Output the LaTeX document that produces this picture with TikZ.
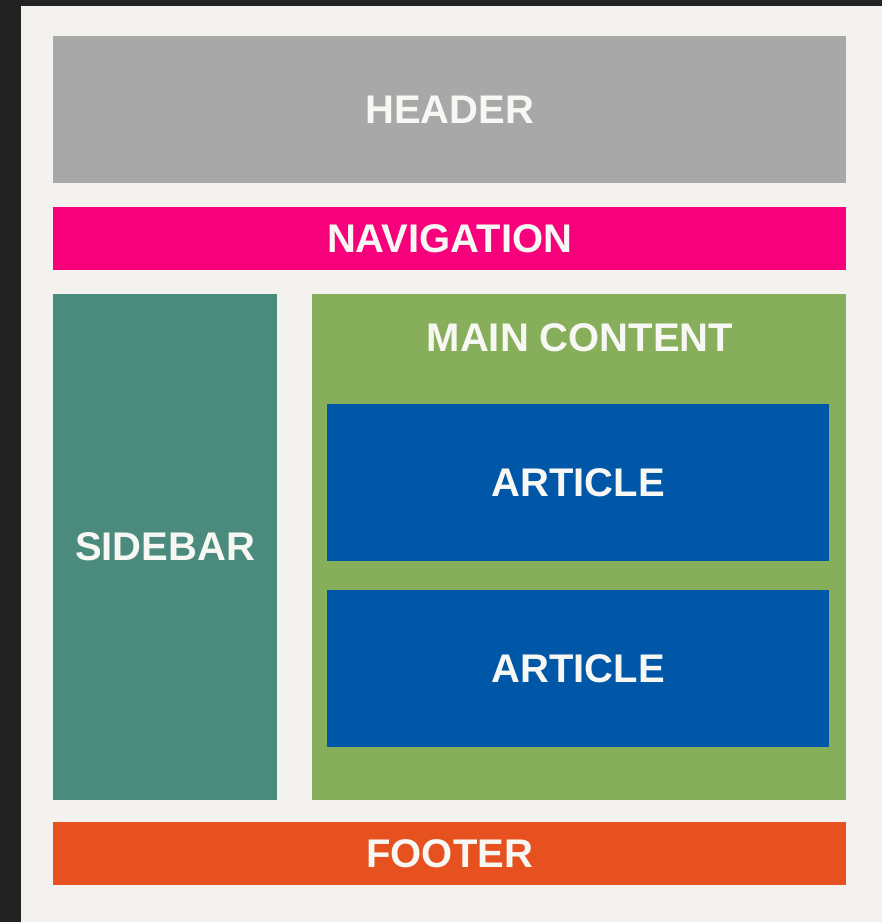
\documentclass[tikz,border=0pt]{standalone}
\usepackage{fontspec}
\setmainfont{Liberation Sans}
\usetikzlibrary{positioning}

\definecolor{darkframe}{HTML}{222222}
\definecolor{pagebg}{HTML}{F4F2EE}
\definecolor{headergray}{HTML}{A7A8A7}
\definecolor{navpink}{HTML}{F7007B}
\definecolor{sideteal}{HTML}{4B8B7D}
\definecolor{maingreen}{HTML}{87AE5B}
\definecolor{articleblue}{HTML}{0057A7}
\definecolor{footerorange}{HTML}{E6511F}
\definecolor{labelwhite}{HTML}{F7F7F3}

\begin{document}
\begin{tikzpicture}[x=1pt,y=-1pt,
  block/.style={rectangle,anchor=north west,inner sep=0pt,text=labelwhite,
    font=\fontsize{40}{48}\selectfont\bfseries},
  title/.style={text=labelwhite,inner sep=0pt,font=\fontsize{40}{48}\selectfont\bfseries}]
   % page and dark frame
   \fill[darkframe] (0,0) rectangle (882,922);
   \fill[pagebg]    (21,6) rectangle (882,922);
   \useasboundingbox (0,0) rectangle (882,922);
   \node[block,fill=headergray,minimum width=793pt,minimum height=147pt]  (header)  at (53,36)   {HEADER};
   \node[block,fill=navpink,minimum width=793pt,minimum height=63pt]      (nav)     at (53,207)  {NAVIGATION};
   \node[block,fill=sideteal,minimum width=224pt,minimum height=506pt]    (sidebar) at (53,294)  {SIDEBAR};
   \node[block,fill=maingreen,minimum width=534pt,minimum height=506pt]   (main)    at (312,294) {};
   \node[title]                                                           (maintitle) at (580,338) {MAIN CONTENT};
   \node[block,fill=articleblue,minimum width=502pt,minimum height=157pt] (art1)    at (327,404) {ARTICLE};
   \node[block,fill=articleblue,minimum width=502pt,minimum height=157pt] (art2)    at (327,590) {ARTICLE};
   \node[block,fill=footerorange,minimum width=793pt,minimum height=63pt] (footer)  at (53,822)  {FOOTER};
\end{tikzpicture}
\end{document}
